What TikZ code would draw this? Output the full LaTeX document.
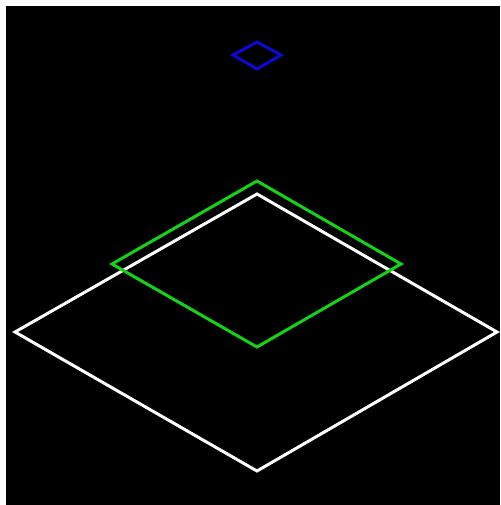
\documentclass[tikz,border=0pt]{standalone}
\begin{document}
\begin{tikzpicture}[x=1pt,y=-1pt,
  edge/.style={line width=3pt,line join=miter}]
\useasboundingbox (0,0) rectangle (500,505);
\fill[white] (0,0) rectangle (500,505);
\fill[black] (6,6) rectangle (500,505);
\coordinate (wl) at (15,332);
\coordinate (wt) at (257,194);
\coordinate (wr) at (497,332);
\coordinate (wb) at (257,471);
\draw[edge,white] (wl) -- (wt) -- (wr) -- (wb) -- cycle;
\coordinate (gl) at (112,264);
\coordinate (gt) at (257,181);
\coordinate (gr) at (401,264);
\coordinate (gb) at (257,347);
\draw[edge,color={rgb,255:red,20;green,210;blue,20}] (gl) -- (gt) -- (gr) -- (gb) -- cycle;
\coordinate (bl) at (233,55);
\coordinate (bt) at (257,42);
\coordinate (br) at (281,55);
\coordinate (bb) at (257,69);
\draw[edge,color={rgb,255:red,10;green,10;blue,210}] (bl) -- (bt) -- (br) -- (bb) -- cycle;
\end{tikzpicture}
\end{document}
